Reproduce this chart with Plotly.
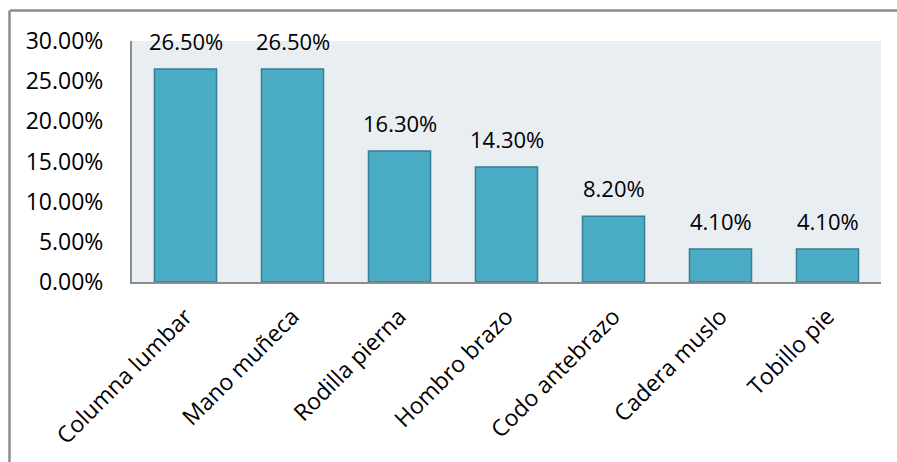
import plotly.graph_objects as go

categories = ["Columna lumbar", "Mano muñeca", "Rodilla pierna", "Hombro brazo",
              "Codo antebrazo", "Cadera muslo", "Tobillo pie"]
values = [26.5, 26.5, 16.3, 14.3, 8.2, 4.1, 4.1]
tick_vals = [0, 5, 10, 15, 20, 25, 30]
tick_text = ["0.00%", "5.00%", "10.00%", "15.00%", "20.00%", "25.00%", "30.00%"]

FONT = "Open Sans"
FS = 23

fig = go.Figure(go.Bar(
    x=categories, y=values,
    marker=dict(color="#4bacc6", line=dict(color="#357f93", width=1.5)),
    width=0.58,
))

for c, v in zip(categories, values):
    fig.add_annotation(x=c, y=v, text=f"{v:.2f}%", showarrow=False,
                       yanchor="bottom", yshift=11,
                       font=dict(family=FONT, size=FS - 1, color="black"))

fig.update_layout(
    width=897, height=462,
    margin=dict(l=132, r=16, t=41, b=180),
    paper_bgcolor="white",
    plot_bgcolor="#e8eef2",
    showlegend=False,
    font=dict(family=FONT, size=FS, color="black"),
)
fig.update_xaxes(
    tickangle=-45, showline=True, linecolor="#8c8c8c", linewidth=2,
    ticks="", tickfont=dict(family=FONT, size=FS, color="black"),
    showgrid=False, automargin=False, ticklabelstandoff=10,
)
fig.update_yaxes(
    range=[0, 30], tickvals=tick_vals, ticktext=tick_text,
    showline=True, linecolor="#8c8c8c", linewidth=2, showgrid=False,
    ticks="", tickfont=dict(family=FONT, size=FS, color="black"),
    zeroline=False, ticklabelstandoff=22, automargin=False,
)
# outer chart border (top and left visible)
fig.add_shape(type="line", xref="paper", yref="paper",
              x0=(10-132)/749, x1=(897-132)/749,
              y0=(282-10.5)/241, y1=(282-10.5)/241,
              line=dict(color="#8c8c8c", width=2.5))
fig.add_shape(type="line", xref="paper", yref="paper",
              x0=(9.5-132)/749, x1=(9.5-132)/749,
              y0=(282-10.5)/241, y1=(282-462)/241,
              line=dict(color="#8c8c8c", width=2.5))

fig.write_html("out.html")
